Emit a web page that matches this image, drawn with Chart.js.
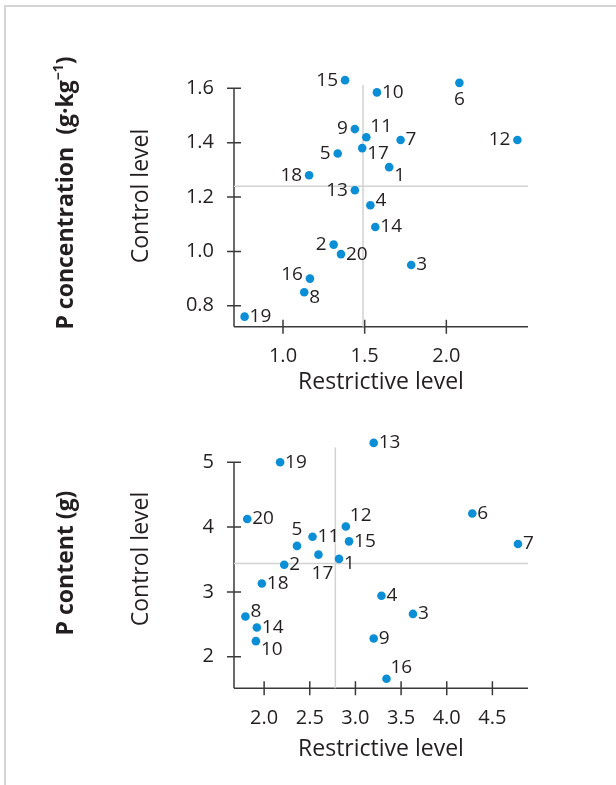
<!DOCTYPE html>
<html>
<head>
<meta charset="utf-8">
<script src="https://cdn.jsdelivr.net/npm/chart.js@4.4.1/dist/chart.umd.min.js"></script>
<style>
  html, body { margin: 0; padding: 0; background: #fff; overflow: hidden; }
  #frame { position: absolute; left: 4px; top: 5px; width: 640px; height: 800px;
           border-top: 2px solid #d4d4d4; border-left: 2px solid #d4d4d4; }
  canvas { position: absolute; left: 0; }
</style>
</head>
<body>
<div id="frame"></div>
<canvas id="concChart" width="616" height="400" style="top:0"></canvas>
<canvas id="contentChart" width="616" height="385" style="top:400px"></canvas>
<script>
// sample ids 1..20
const sampleIds = [1, 2, 3, 4, 5, 6, 7, 8, 9, 10, 11, 12, 13, 14, 15, 16, 17, 18, 19, 20];

// P concentration (g·kg-1)
const concRestrictive = [1.65, 1.31, 1.785, 1.535, 1.335, 2.08, 1.72, 1.13, 1.44, 1.575,
                         1.51, 2.435, 1.44, 1.565, 1.38, 1.165, 1.485, 1.16, 0.765, 1.355];
const concControl = [1.31, 1.025, 0.95, 1.17, 1.36, 1.62, 1.41, 0.85, 1.45, 1.585,
                     1.42, 1.41, 1.225, 1.09, 1.63, 0.9, 1.38, 1.28, 0.76, 0.99];
const concMeanRestrictive = 1.49;
const concMeanControl = 1.24;
const concXTicks = [1.0, 1.5, 2.0];
const concYTicks = [0.8, 1.0, 1.2, 1.4, 1.6];

// P content (g)
const contentRestrictive = [2.82, 2.22, 3.63, 3.285, 2.36, 4.28, 4.78, 1.795, 3.2, 1.91,
                            2.53, 2.895, 3.2, 1.92, 2.93, 3.34, 2.595, 1.975, 2.175, 1.815];
const contentControl = [3.51, 3.42, 2.66, 2.94, 3.71, 4.21, 3.74, 2.62, 2.28, 2.24,
                        3.85, 4.01, 5.3, 2.45, 3.78, 1.66, 3.575, 3.13, 5.0, 4.125];
const contentMeanRestrictive = 2.78;
const contentMeanControl = 3.44;
const contentXTicks = [2.0, 2.5, 3.0, 3.5, 4.0, 4.5];
const contentYTicks = [2, 3, 4, 5];

const BLUE = "#0a8ed6";
const INK = "#231f20";
const AXIS = "#3a3a3a";
const FONT = "'Open Sans', 'DejaVu Sans', sans-serif";

// where each id label sits next to its dot: [dx, dy, align]
const labelOffsets = {
  r: [5, 0, "left"], l: [-7, 0, "right"], a: [0, -16, "center"], b: [0, 17, "center"],
  ar: [4, -11, "left"], ru: [5, -5, "left"], lu: [-7, -4, "right"], rd: [5, 5, "left"],
  br: [5, 8, "left"], bc: [4, 19, "center"]
};
const concLabelPos = ["br", "l", "r", "ru", "l", "b", "r", "rd", "l", "r",
                      "ar", "l", "l", "r", "l", "lu", "rd", "l", "r", "r"];
const contentLabelPos = ["rd", "r", "r", "r", "a", "r", "r", "ru", "r", "br",
                         "r", "ar", "r", "r", "r", "ar", "bc", "r", "r", "r"];

const decorPlugin = {
  id: "decor",
  beforeDatasetsDraw(chart) {
    // axis lines: x axis full width, y axis only up to its top tick
    const ctx = chart.ctx;
    const xs = chart.scales.x, ys = chart.scales.y;
    const yTop = ys.getPixelForValue(ys.ticks[ys.ticks.length - 1].value);
    ctx.save();
    ctx.strokeStyle = AXIS;
    ctx.lineWidth = 1.5;
    ctx.beginPath();
    ctx.moveTo(xs.left, xs.top);
    ctx.lineTo(xs.right, xs.top);
    ctx.moveTo(ys.right, ys.bottom);
    ctx.lineTo(ys.right, yTop);
    xs.ticks.forEach(t => {
      const px = xs.getPixelForValue(t.value);
      ctx.moveTo(px, xs.top - 7);
      ctx.lineTo(px, xs.top + 7);
    });
    ys.ticks.forEach(t => {
      const py = ys.getPixelForValue(t.value);
      ctx.moveTo(ys.right - 7, py);
      ctx.lineTo(ys.right + 7, py);
    });
    ctx.stroke();
    ctx.restore();
  },
  afterDatasetsDraw(chart, args, opts) {
    const ctx = chart.ctx;
    ctx.save();
    ctx.fillStyle = INK;
    ctx.font = "19px " + FONT;
    ctx.textBaseline = "middle";
    const meta = chart.getDatasetMeta(0);
    meta.data.forEach((pt, i) => {
      const [dx, dy, align] = labelOffsets[opts.positions[i]];
      ctx.textAlign = align;
      ctx.fillText(String(sampleIds[i]), pt.x + dx, pt.y + dy);
    });
    ctx.restore();
  },
  afterDraw(chart, args, opts) {
    const ctx = chart.ctx;
    ctx.save();
    ctx.fillStyle = INK;
    ctx.textBaseline = "middle";
    // axis title
    ctx.save();
    ctx.translate(opts.titleX, opts.titleY);
    ctx.rotate(-Math.PI / 2);
    ctx.font = "23px " + FONT;
    ctx.textAlign = "center";
    ctx.fillText("Control level", 0, 0);
    ctx.restore();
    // bold outer label, with optional superscript parts
    ctx.save();
    ctx.translate(opts.boldX, opts.boldY);
    ctx.rotate(-Math.PI / 2);
    ctx.textAlign = "left";
    const parts = opts.bold;
    let total = 0;
    parts.forEach(p => {
      ctx.font = (p.sup ? "bold 14px " : "bold 23px ") + FONT;
      p.w = ctx.measureText(p.t).width;
      total += p.w;
    });
    let x = -total / 2;
    parts.forEach(p => {
      ctx.font = (p.sup ? "bold 14px " : "bold 23px ") + FONT;
      ctx.fillText(p.t, x, p.sup ? -7 : 0);
      x += p.w;
    });
    ctx.restore();
    ctx.restore();
  }
};

function makeChart(id, cfg) {
  const pts = cfg.xs.map((v, i) => ({ x: v, y: cfg.ys[i] }));
  return new Chart(document.getElementById(id), {
    type: "scatter",
    data: {
      datasets: [
        { data: pts, backgroundColor: BLUE, borderWidth: 0, pointRadius: 4.3, clip: false },
        { data: [{ x: cfg.meanX, y: cfg.yMin }, { x: cfg.meanX, y: cfg.vTop }],
          showLine: true, borderColor: "#d2d2d2", borderWidth: 1.5, pointRadius: 0, clip: false },
        { data: [{ x: cfg.xMin, y: cfg.meanY }, { x: cfg.xMax, y: cfg.meanY }],
          showLine: true, borderColor: "#d2d2d2", borderWidth: 1.5, pointRadius: 0, clip: false }
      ]
    },
    options: {
      responsive: false,
      animation: false,
      layout: { padding: { left: 0, top: cfg.top, right: 88, bottom: 0 } },
      plugins: {
        legend: { display: false },
        tooltip: { enabled: false },
        decor: cfg.decor
      },
      scales: {
        x: {
          type: "linear", min: cfg.xMin, max: cfg.xMax,
          afterBuildTicks: s => { s.ticks = cfg.xTicks.map(v => ({ value: v })); },
          afterFit: s => { s.height = cfg.xHeight; },
          grid: { display: false, drawTicks: false },
          border: { display: false },
          ticks: { padding: 18, color: INK, font: { size: 20, family: FONT },
                   callback: v => v.toFixed(1) },
          title: { display: true, text: "Restrictive level", color: INK,
                   font: { size: 23, family: FONT }, padding: { top: 0, bottom: cfg.titlePad } }
        },
        y: {
          type: "linear", min: cfg.yMin, max: cfg.yMax,
          afterBuildTicks: s => { s.ticks = cfg.yTicks.map(v => ({ value: v })); },
          afterFit: s => { s.width = 234; },
          grid: { display: false, drawTicks: false },
          border: { display: false },
          ticks: { padding: 20, color: INK, font: { size: 20, family: FONT },
                   callback: cfg.yFmt }
        }
      }
    },
    plugins: [decorPlugin]
  });
}

makeChart("concChart", {
  xs: concRestrictive, ys: concControl,
  meanX: concMeanRestrictive, meanY: concMeanControl,
  xMin: 0.7, xMax: 2.5, yMin: 0.723, yMax: 1.66, vTop: 1.612,
  xTicks: concXTicks, yTicks: concYTicks,
  yFmt: v => v.toFixed(1),
  top: 72, xHeight: 73.3, titlePad: 3.8,
  decor: {
    positions: concLabelPos, titleX: 141.5, titleY: 196, boldX: 66.5, boldY: 193,
    bold: [{ t: "P concentration  (g·kg" }, { t: "−1", sup: true }, { t: ")" }]
  }
});

makeChart("contentChart", {
  xs: contentRestrictive, ys: contentControl,
  meanX: contentMeanRestrictive, meanY: contentMeanControl,
  xMin: 1.67, xMax: 4.89, yMin: 1.512, yMax: 5.4, vTop: 5.23,
  xTicks: contentXTicks, yTicks: contentYTicks,
  yFmt: v => String(v),
  top: 36.4, xHeight: 96.7, titlePad: 22.2,
  decor: {
    positions: contentLabelPos, titleX: 141.5, titleY: 159, boldX: 66.5, boldY: 163,
    bold: [{ t: "P content (g)" }]
  }
});
</script>
</body>
</html>
